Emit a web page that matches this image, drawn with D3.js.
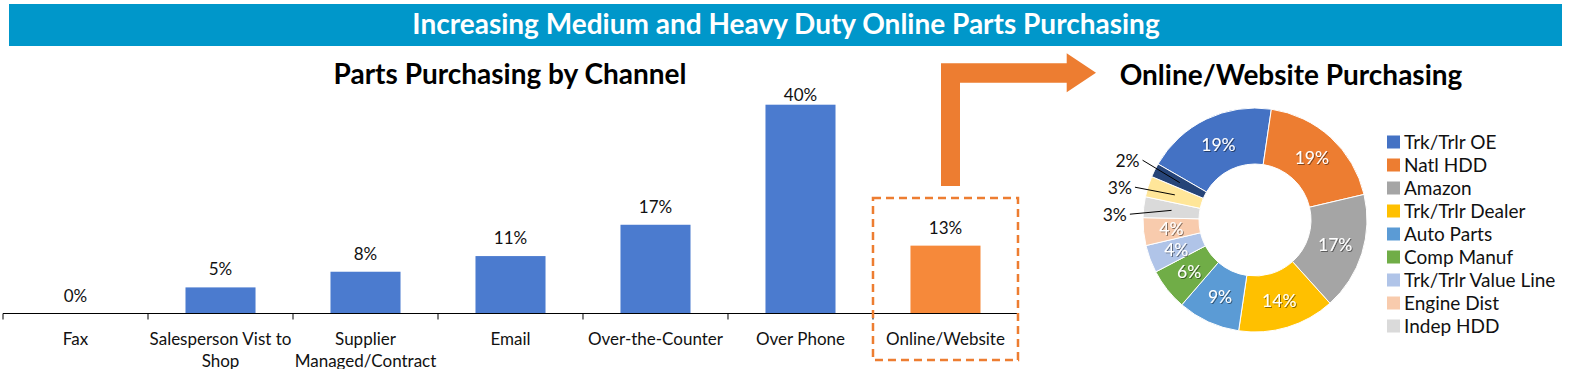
<!DOCTYPE html>
<html>
<head>
<meta charset="utf-8">
<script src="https://cdn.jsdelivr.net/npm/d3@7"></script>
<style>
  body { margin: 0; background: #fff; }
  svg { display: block; font-family: Lato, "Open Sans", sans-serif; }
  svg text { font-family: Lato, "Open Sans", sans-serif; }
</style>
</head>
<body>
<div id="chart"></div>
<script>
(function online_parts(){
  // bar chart data: share of parts purchasing by channel (%)
  const channels = ["Fax", "Salesperson Vist to\nShop", "Supplier\nManaged/Contract", "Email",
                    "Over-the-Counter", "Over Phone", "Online/Website"];
  const channelShare = [0, 5, 8, 11, 17, 40, 13];

  // donut data: breakdown of online/website purchasing (%)
  const sources = ["Trk/Trlr OE", "Natl HDD", "Amazon", "Trk/Trlr Dealer", "Auto Parts",
                   "Comp Manuf", "Trk/Trlr Value Line", "Engine Dist", "Indep HDD", "", ""];
  const sourceShare = [19, 19, 17, 14, 9, 6, 4, 4, 3, 3, 2];
  const sourceColors = ["#4472C4", "#ED7D31", "#A5A5A5", "#FFC000", "#5B9BD5", "#70AD47",
                        "#B0C4E8", "#F8CBAD", "#DADADA", "#FFE699", "#264478"];

  const width = 1591, height = 369;
  const orange = "#ED7D31";

  const svg = d3.select("#chart")
    .append("svg")
      .attr("width", width)
      .attr("height", height);

  // drop shadow for the white labels in the donut
  svg.append("defs").append("filter")
      .attr("id", "shadow")
      .attr("x", "-20%").attr("y", "-20%").attr("width", "140%").attr("height", "140%")
    .append("feDropShadow")
      .attr("dx", 1).attr("dy", 1).attr("stdDeviation", 0.7)
      .attr("flood-color", "#000").attr("flood-opacity", 0.45);

  // title banner
  svg.append("rect")
    .attr("x", 9).attr("y", 4)
    .attr("width", 1553).attr("height", 42)
    .attr("fill", "#0097CA");

  svg.append("text")
    .attr("x", 786).attr("y", 34)
    .attr("text-anchor", "middle")
    .attr("fill", "#fff")
    .style("font-size", "28px")
    .style("font-weight", "bold")
    .text("Increasing Medium and Heavy Duty Online Parts Purchasing");

  // ---------- bar chart ----------
  const x = d3.scaleBand()
    .domain(channels)
    .range([3, 1018])
    .paddingInner(0.517)
    .paddingOuter(0.2586);

  const y = d3.scaleLinear()
    .domain([0, 45])
    .range([313.5, 78.6]);

  svg.append("text")
    .attr("x", 510).attr("y", 84)
    .attr("text-anchor", "middle")
    .attr("fill", "#000")
    .style("font-size", "28px")
    .style("font-weight", "bold")
    .text("Parts Purchasing by Channel");

  const data = channels.map((c, i) => ({channel: c, value: channelShare[i]}));
  const last = channels[channels.length - 1];

  svg.selectAll(".bar")
    .data(data)
    .join("rect")
      .attr("class", "bar")
      .attr("x", d => x(d.channel))
      .attr("y", d => y(d.value))
      .attr("width", x.bandwidth())
      .attr("height", d => y(0) - y(d.value))
      .attr("fill", d => d.channel === last ? "#F6893A" : "#4B7BCF");

  // value labels, kept inside the plot area like the original
  svg.selectAll(".val")
    .data(data)
    .join("text")
      .attr("class", "val")
      .attr("x", d => x(d.channel) + x.bandwidth() / 2)
      .attr("y", d => Math.max(y(d.value) - 12, y(45) + 22))
      .attr("text-anchor", "middle")
      .attr("fill", "#111")
      .style("font-size", "17px")
      .text(d => d.value + "%");

  // category axis with ticks between categories
  const gap = (x.step() - x.bandwidth()) / 2;
  const xAxis = svg.append("g")
    .attr("transform", `translate(0, ${y(0)})`)
    .call(d3.axisBottom(x).tickSize(0).tickFormat(""));
  xAxis.attr("font-family", null);
  xAxis.select(".domain").attr("stroke", "#000").attr("d", `M3,0H1018`);

  const bounds = channels.map(c => x(c) - gap).concat([x(last) + x.bandwidth() + gap]);
  xAxis.selectAll(".sep")
    .data(bounds)
    .join("line")
      .attr("class", "sep")
      .attr("x1", d => d).attr("x2", d => d)
      .attr("y1", 0).attr("y2", 6)
      .attr("stroke", "#000");

  xAxis.selectAll(".cat")
    .data(channels)
    .join("text")
      .attr("class", "cat")
      .attr("text-anchor", "middle")
      .attr("fill", "#111")
      .style("font-size", "17px")
      .each(function(d) {
        const t = d3.select(this);
        d.split("\n").forEach((line, i) => {
          t.append("tspan")
            .attr("x", x(d) + x.bandwidth() / 2)
            .attr("y", 31 + i * 22)
            .text(line);
        });
      });

  // dashed highlight around online/website
  const bx0 = x(last) - gap;
  svg.append("rect")
    .attr("x", bx0).attr("y", 198)
    .attr("width", x.step()).attr("height", 162)
    .attr("fill", "none")
    .attr("stroke", orange)
    .attr("stroke-width", 2.5)
    .attr("stroke-dasharray", "8,5");

  // bent arrow pointing to the donut
  svg.append("path")
    .attr("d", "M941,186V63.3H1066.7V53.3L1096,72.7L1066.7,92.3V82.7H960V186Z")
    .attr("fill", orange);

  // ---------- donut ----------
  const cx = 1255, cy = 220, rOut = 112, rIn = 56;

  svg.append("text")
    .attr("x", 1291).attr("y", 85)
    .attr("text-anchor", "middle")
    .attr("fill", "#000")
    .style("font-size", "28px")
    .style("font-weight", "bold")
    .text("Online/Website Purchasing");

  const pie = d3.pie()
    .sort(null)
    .startAngle(-Math.PI / 3)
    .endAngle(2 * Math.PI - Math.PI / 3)
    .value(d => d.value);

  const slices = pie(sources.map((s, i) => ({name: s, value: sourceShare[i], color: sourceColors[i]})));
  const arc = d3.arc().innerRadius(rIn).outerRadius(rOut);

  const donut = svg.append("g").attr("transform", `translate(${cx}, ${cy})`);

  donut.selectAll("path")
    .data(slices)
    .join("path")
      .attr("d", arc)
      .attr("fill", d => d.data.color)
      .attr("stroke", "#fff")
      .attr("stroke-width", 1);

  const inside = slices.filter(d => d.data.value >= 4);
  const outside = slices.filter(d => d.data.value < 4).reverse();

  donut.selectAll(".in")
    .data(inside)
    .join("text")
      .attr("class", "in")
      .attr("transform", d => `translate(${arc.centroid(d)})`)
      .attr("text-anchor", "middle")
      .attr("dy", "0.36em")
      .attr("fill", "#fff")
      .attr("filter", "url(#shadow)")
      .style("font-size", "17.5px")
      .text(d => d.data.value + "%");

  // small slices: labels pushed outward and spread, with leader lines
  let prevY = -Infinity;
  outside.forEach(d => {
    const a = (d.startAngle + d.endAngle) / 2;
    const lx = 130 * Math.sin(a);
    let ly = -130 * Math.cos(a);
    if (ly < prevY + 27) ly = prevY + 27;
    prevY = ly;
    const c = arc.centroid(d);
    donut.append("line")
      .attr("x1", lx + 4).attr("y1", ly - 2)
      .attr("x2", c[0]).attr("y2", c[1])
      .attr("stroke", "#000").attr("stroke-width", 1);
    donut.append("text")
      .attr("x", lx + 1).attr("y", ly + 5)
      .attr("text-anchor", "end")
      .attr("fill", "#111")
      .style("font-size", "17.5px")
      .text(d.data.value + "%");
  });

  // legend (only the named series)
  const named = slices.filter(d => d.data.name !== "");
  const legend = svg.append("g").attr("transform", "translate(1387, 142)");
  const item = legend.selectAll("g")
    .data(named)
    .join("g")
      .attr("transform", (d, i) => `translate(0, ${i * 23})`);
  item.append("rect")
    .attr("x", 0).attr("y", -6.5)
    .attr("width", 13).attr("height", 13)
    .attr("fill", d => d.data.color);
  item.append("text")
    .attr("x", 17).attr("dy", "0.36em")
    .attr("fill", "#111")
    .style("font-size", "19px")
    .text(d => d.data.name);
})();
</script>
</body>
</html>
